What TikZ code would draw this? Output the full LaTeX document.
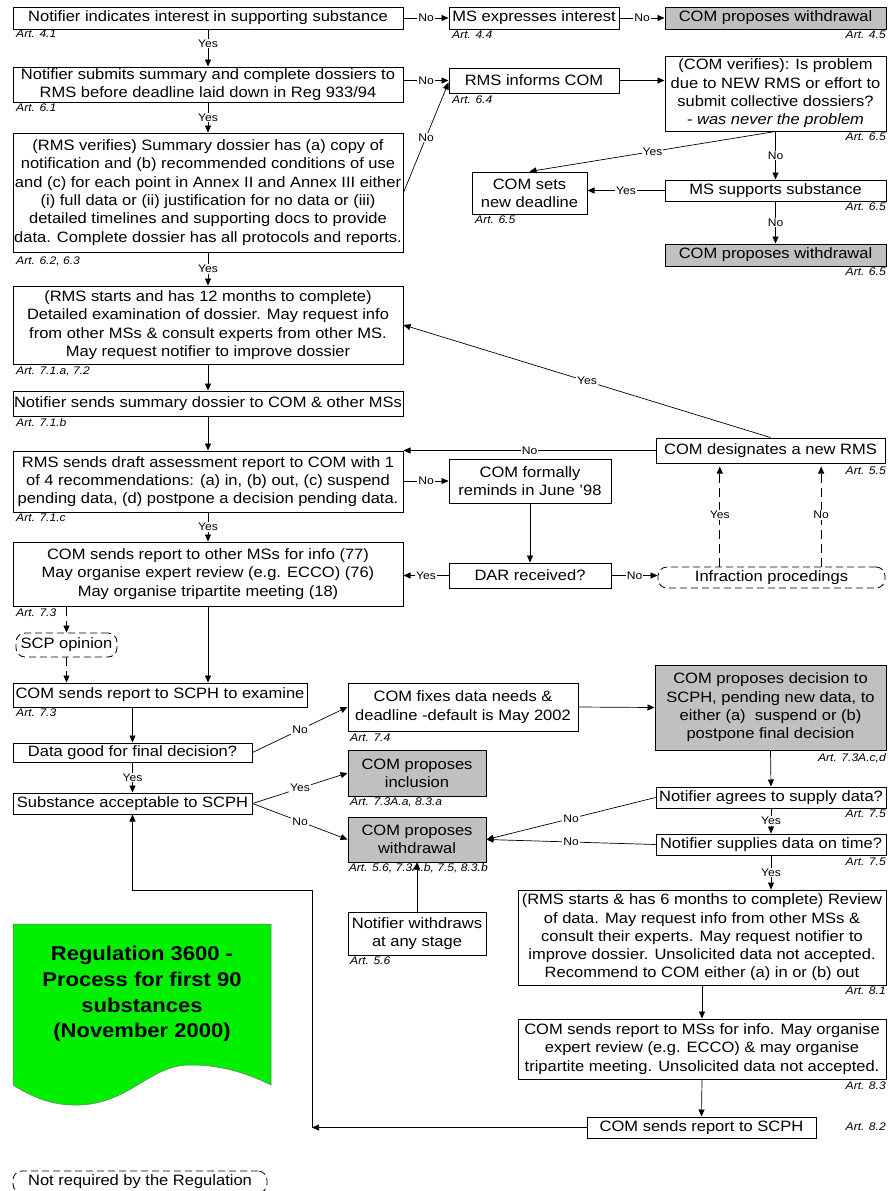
\documentclass[tikz,border=0pt]{standalone}
\usepackage{fontspec}
\setmainfont[FakeStretch=1.1]{Liberation Sans}
\usetikzlibrary{arrows.meta,calc}
\definecolor{boxgray}{RGB}{192,192,192}
\definecolor{docgreen}{RGB}{0,240,0}
\newcommand\bodyfont{\fontsize{15}{18.3}\selectfont}
\newcommand\artfont{\fontsize{11}{13}\selectfont\itshape}
\newcommand\lblfont{\fontsize{11}{13}\selectfont}
\newcommand\titlefont{\fontsize{20}{25.7}\selectfont\bfseries}
\newcommand{\mkbox}[7]{%
  \node[boxbase,#6,minimum width={(#4-#2)*1pt},minimum height={(#5-#3)*1pt}] (#1) at ({(#2+#4)/2},{(#3+#5)/2}) {};
  \node[boxtxt] (#1t) at (#1.center) {#7};
}
\tikzset{
 boxbase/.style={draw, line width=1pt, inner sep=0pt, fill=white},
 graybox/.style={fill=boxgray},
 dbox/.style={dash pattern=on 7pt off 4pt, rounded corners=9pt, line width=0.8pt},
 boxtxt/.style={align=center, inner sep=0pt, font=\bodyfont},
 art/.style={font=\artfont, inner sep=0pt},
 lbl/.style={fill=white, inner sep=1pt, font=\lblfont},
 conn/.style={line width=0.7pt, -{Triangle[length=7pt,width=6pt]}},
 dconn/.style={conn, dash pattern=on 9pt off 5pt},
}
\begin{document}
\begin{tikzpicture}[x=1pt,y=-1pt]
\useasboundingbox (0,0) rectangle (889,1191);

% ---------- top rows ----------
\mkbox{b1}{13}{7}{403}{29}{}{Notifier indicates interest in supporting substance}
\mkbox{msint}{449}{7}{619}{29}{}{MS expresses interest}
\mkbox{wdA}{665}{7}{886}{29}{graybox}{COM proposes withdrawal}
\node[art,anchor=west] (a41) at (16,34) {Art. 4.1};
\node[art,anchor=west] (a44) at (452,35) {Art. 4.4};
\node[art,anchor=east] (a45) at (886,35) {Art. 4.5};

\mkbox{b2}{13}{67}{403}{102}{}{Notifier submits summary and complete dossiers to\\RMS before deadline laid down in Reg 933/94}
\mkbox{rmsinf}{449}{68}{619}{93}{}{RMS informs COM}
\mkbox{verif}{665}{56}{886}{131}{}{(COM verifies): Is problem\\due to NEW RMS or effort to\\submit collective dossiers?\\- \textit{was never the problem}}
\node[art,anchor=west] (a61) at (16,108) {Art. 6.1};
\node[art,anchor=west] (a64) at (452,100) {Art. 6.4};
\node[art,anchor=east] (a65a) at (886,137) {Art. 6.5};

\mkbox{newdl}{472}{172}{587}{214}{}{COM sets\\new deadline}
\mkbox{mssup}{665}{180}{886}{201}{}{MS supports substance}
\mkbox{wdB}{665}{244}{886}{266}{graybox}{COM proposes withdrawal}
\node[art,anchor=west] (a65b) at (475,220) {Art. 6.5};
\node[art,anchor=east] (a65c) at (886,207) {Art. 6.5};
\node[art,anchor=east] (a65d) at (886,272) {Art. 6.5};

\mkbox{b3}{13}{133}{403}{252}{}{(RMS verifies) Summary dossier has (a) copy of\\notification and (b) recommended conditions of use\\and (c) for each point in Annex II and Annex III either\\(i) full data or (ii) justification for no data or (iii)\\detailed timelines and supporting docs to provide\\data. Complete dossier has all protocols and reports.}
\node[art,anchor=west] (a623) at (16,261) {Art. 6.2, 6.3};

\mkbox{b4}{13}{286}{403}{364}{}{(RMS starts and has 12 months to complete)\\Detailed examination of dossier. May request info\\from other MSs \& consult experts from other MS.\\May request notifier to improve dossier}
\node[art,anchor=west] (a71a) at (16,371) {Art. 7.1.a, 7.2};

\mkbox{b5}{13}{391}{403}{416}{}{Notifier sends summary dossier to COM \& other MSs}
\node[art,anchor=west] (a71b) at (16,423) {Art. 7.1.b};

\mkbox{b6}{13}{451}{403}{512}{}{RMS sends draft assessment report to COM with 1\\of 4 recommendations: (a) in, (b) out, (c) suspend\\pending data, (d) postpone a decision pending data.}
\node[art,anchor=west] (a71c) at (16,518) {Art. 7.1.c};

\mkbox{desig}{656}{438}{885}{463}{}{COM designates a new RMS}
\node[art,anchor=east] (a55) at (886,471) {Art. 5.5};
\mkbox{remind}{449}{459}{611}{503}{}{COM formally\\reminds in June '98}
\mkbox{dar}{449}{563}{611}{588}{}{DAR received?}
\mkbox{infr}{658}{567}{885}{588}{dbox}{Infraction procedings}

\mkbox{b7}{13}{542}{403}{606}{}{COM sends report to other MSs for info (77)\\May organise expert review (e.g. ECCO) (76)\\May organise tripartite meeting (18)}
\node[art,anchor=west] (a73a) at (16,613) {Art. 7.3};
\mkbox{scp}{16}{633}{117}{657}{dbox}{SCP opinion}

\mkbox{b8}{13}{683}{307}{707}{}{COM sends report to SCPH to examine}
\node[art,anchor=west] (a73b) at (16,713) {Art. 7.3};
\mkbox{datag}{13}{743}{252}{762}{}{Data good for final decision?}
\mkbox{subst}{13}{793}{252}{814}{}{Substance acceptable to SCPH}

\mkbox{fixes}{348}{683}{578}{731}{}{COM fixes data needs \&\\deadline -default is May 2002}
\node[art,anchor=west] (a74) at (350,738) {Art. 7.4};
\mkbox{incl}{348}{750}{486}{796}{graybox}{COM proposes\\inclusion}
\node[art,anchor=west] (a73aa) at (350,802) {Art. 7.3A.a, 8.3.a};
\mkbox{wdm}{348}{817}{486}{862}{graybox}{COM proposes\\withdrawal}
\node[art,anchor=east] (a56a) at (488,868) {Art. 5.6, 7.3A.b, 7.5, 8.3.b};
\mkbox{notwd}{348}{912}{486}{955}{}{Notifier withdraws\\at any stage}
\node[art,anchor=west] (a56b) at (350,961) {Art. 5.6};

\mkbox{decis}{655}{665}{886}{750}{graybox}{COM proposes decision to\\SCPH, pending new data, to\\either (a)\ \ suspend or (b)\\postpone final decision}
\node[art,anchor=east] (a73acd) at (886,758) {Art. 7.3A.c,d};
\mkbox{agree}{656}{787}{886}{808}{}{Notifier agrees to supply data?}
\node[art,anchor=east] (a75a) at (886,814) {Art. 7.5};
\mkbox{supp}{656}{834}{886}{855}{}{Notifier supplies data on time?}
\node[art,anchor=east] (a75b) at (886,862) {Art. 7.5};

\mkbox{rmssix}{518}{890}{886}{985}{}{(RMS starts \& has 6 months to complete) Review\\of data. May request info from other MSs \&\\consult their experts. May request notifier to\\improve dossier. Unsolicited data not accepted.\\Recommend to COM either (a) in or (b) out}
\node[art,anchor=east] (a81) at (886,991) {Art. 8.1};
\mkbox{comms}{518}{1019}{886}{1079}{}{COM sends report to MSs for info. May organise\\expert review (e.g. ECCO) \& may organise\\tripartite meeting. Unsolicited data not accepted.}
\node[art,anchor=east] (a83) at (886,1086) {Art. 8.3};
\mkbox{scph}{587}{1117}{816}{1138}{}{COM sends report to SCPH}
\node[art,anchor=east] (a82) at (886,1127) {Art. 8.2};

% ---------- title document ----------
\path[fill=docgreen, draw=black!55, line width=0.5pt] (13,924) -- (271,924) -- (271,1085)
  .. controls (250,1075) and (225,1065) .. (190,1065)
  .. controls (150,1065) and (130,1103) .. (80,1105)
  .. controls (55,1106) and (35,1099) .. (13,1085) -- cycle;
\node[font=\titlefont, align=center, inner sep=0pt] (title) at (142,994) {Regulation 3600 -\\Process for first 90\\substances\\(November 2000)};

\mkbox{legend}{13}{1171}{267}{1193}{dbox}{Not required by the Regulation}

% ---------- connectors ----------
\draw[conn] (b1.east) -- node[lbl]{No} (msint.west);
\draw[conn] (msint.east) -- node[lbl]{No} (wdA.west);
\draw[conn] (b1.south) -- node[lbl,pos=0.38]{Yes} (b2.north);
\draw[conn] (b2.east |- rmsinf.west) -- node[lbl]{No} (rmsinf.west);
\draw[conn] (b3.east) -- node[lbl]{No} ([yshift=-2pt]rmsinf.west);
\draw[conn] (rmsinf.east) -- (verif.west |- rmsinf.east);
\draw[conn] (verif.south) -- node[lbl]{Yes} (newdl.north);
\draw[conn] (verif.south) -- node[lbl]{No} (mssup.north);
\draw[conn] (mssup.west) -- node[lbl]{Yes} (mssup.west -| newdl.east);
\draw[conn] (mssup.south) -- node[lbl]{No} (wdB.north);
\draw[conn] (b2.south) -- node[lbl]{Yes} (b3.north);
\draw[conn] (b3.south) -- node[lbl]{Yes} (b4.north);
\draw[conn] (b4.south) -- (b5.north);
\draw[conn] (b5.south) -- (b6.north);
\draw[conn] (desig.west) -- node[lbl]{No} (b6.north east);
\draw[conn] (desig.north) -- node[lbl]{Yes} (b4.east);
\draw[conn] (b6.east |- remind.west) -- node[lbl]{No} (remind.west);
\draw[conn] (remind.south) -- (dar.north);
\draw[conn] (dar.west) -- node[lbl]{Yes} (dar.west -| b7.east);
\draw[conn] (dar.east) -- node[lbl]{No} (dar.east -| infr.west);
\coordinate (infA) at ($(infr.north west)!0.273!(infr.north east)$);
\coordinate (infB) at ($(infr.north west)!0.718!(infr.north east)$);
\draw[dconn, shorten >=3pt] (infA) -- node[lbl]{Yes} (infA |- desig.south);
\draw[dconn, shorten >=3pt] (infB) -- node[lbl]{No} (infB |- desig.south);
\draw[conn] (b6.south) -- node[lbl]{Yes} (b7.north);
\draw[dconn] (scp.north |- b7.south) -- (scp.north);
\draw[dconn] (scp.south) -- (scp.south |- b8.north);
\draw[conn] (b7.south) -- (b7.south |- b8.north);
\draw[conn] (datag.north |- b8.south) -- (datag.north);
\draw[conn] (datag.east) -- node[lbl]{No} (fixes.west);
\draw[conn] (datag.south) -- node[lbl]{Yes} (subst.north);
\draw[conn] (subst.east) -- node[lbl]{Yes} (incl.west);
\draw[conn] (subst.east) -- node[lbl]{No} (wdm.west);
\draw[conn] (fixes.east) -- (decis.west);
\draw[conn] (decis.south) -- (agree.north);
\draw[conn] (agree.west) -- node[lbl]{No} (wdm.east);
\draw[conn] (agree.south) -- node[lbl]{Yes} (supp.north);
\draw[conn] (supp.west) -- node[lbl]{No} (wdm.east);
\draw[conn] (supp.south) -- node[lbl]{Yes} (supp.south |- rmssix.north);
\draw[conn] (rmssix.south) -- (comms.north);
\draw[conn] (comms.south) -- (scph.north);
\draw[conn] (notwd.north) -- (wdm.south);
\coordinate (cA) at (312,1127.5);
\coordinate (cB) at (312,890);
\draw[conn] (scph.west) -- (cA);
\draw[conn] (cA) -- (cB) -| (subst.south);
\end{tikzpicture}
\end{document}
